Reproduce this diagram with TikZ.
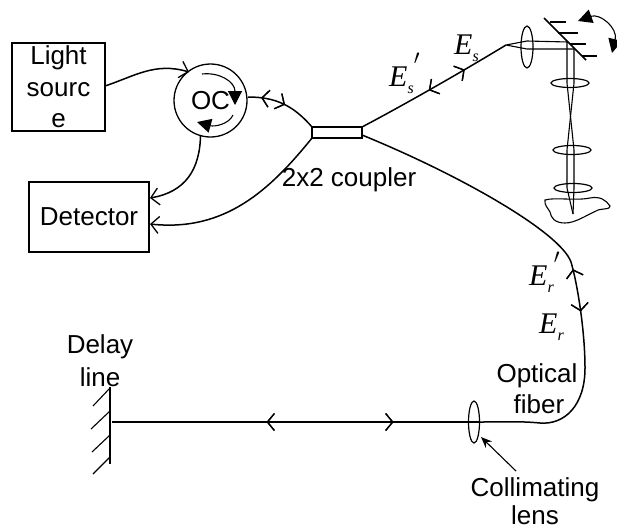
\documentclass[tikz,border=0pt]{standalone}
\usepackage{fontspec}
\setmainfont{Liberation Sans}
\newfontfamily\serifE{Liberation Serif}
\usetikzlibrary{arrows.meta,decorations.markings,calc,shapes.geometric}
\tikzset{
  ln/.style={line width=1.5pt,black},
  thin ln/.style={line width=1.1pt,black},
  boxn/.style={draw,line width=1.3pt,inner sep=0pt,align=center,font=\fontsize{26}{31.5}\selectfont},
  lbl/.style={inner sep=0pt,anchor=base,font=\fontsize{26}{31}\selectfont},
  lens/.style={draw,ellipse,line width=1.2pt,inner sep=0pt},
  fwd/.style={decoration={markings,mark=at position #1 with {\arrow[line width=1.3pt]{Straight Barb[length=7pt,width=17pt]}}},postaction={decorate}},
  bwd/.style={decoration={markings,mark=at position #1 with {\arrowreversed[line width=1.3pt]{Straight Barb[length=7pt,width=17pt]}}},postaction={decorate}},
  barb end/.style={-{Straight Barb[length=8pt,width=17pt,line width=1.3pt]}},
  solid tip/.style={-{Triangle[length=14pt,width=14pt]}},
  efield/.style={inner sep=0pt,anchor=base west},
}
\newcommand{\Efield}[2]{{\serifE\fontsize{30}{30}\selectfont\itshape E\raisebox{-7pt}{\fontsize{16}{16}\selectfont #1}#2}}
\begin{document}
\begin{tikzpicture}[x=1pt,y=-1pt]
\useasboundingbox (0,0) rectangle (617,528);
% boxes
\node[boxn,minimum width=93pt,minimum height=88pt] (src) at (58.5,87) {Light\\sourc\\e};
\node[boxn,minimum width=120pt,minimum height=70pt] (det) at (89,217) {Detector};
\node[draw,circle,line width=1.3pt,minimum size=73pt,inner sep=0pt,font=\fontsize{26}{30}\selectfont] (oc) at (210.5,100.5) {OC};
\node[draw,line width=1.3pt,minimum width=50pt,minimum height=11pt,inner sep=0pt] (cpl) at (337,132.5) {};
% coupler fibres
\coordinate (srcout) at (105,86);
\coordinate (ocin) at (189,72);
\coordinate (ocdown) at (200.5,135);
\coordinate (detin1) at (150,198);
\coordinate (detin2) at (150,224);
\coordinate (ocright) at (248,97);
\coordinate (cplL1) at (312,127);
\coordinate (cplL2) at (312,138);
\coordinate (cplR1) at (362,127);
\coordinate (cplR2) at (362,135);
\coordinate (bend) at (506,45);
\coordinate (fa) at (571,262);
\coordinate (fb) at (585,368);
\coordinate (fc) at (480,422);
\draw[ln,barb end] (srcout) .. controls (135,76) and (155,62) .. (ocin);
\draw[ln,barb end] (ocdown) .. controls (200,170) and (185,192) .. (detin1);
\draw[ln,bwd=0.18,fwd=0.52] (ocright) .. controls (275,97) and (293,105) .. (cplL1);
\draw[ln,barb end] (cplL2) .. controls (270,190) and (225,232) .. (detin2);
\draw[ln,bwd=0.46,fwd=0.71] (cplR1) .. controls (400,107) and (460,73) .. (bend);
\draw[ln] (cplR2) .. controls (460,175) and (560,232) .. (fa);
\draw[ln,bwd=0.07,fwd=0.47] (fa) .. controls (577,282) and (585,330) .. (fb);
\draw[ln] (fb) .. controls (585,405) and (565,425) .. (540,423) .. controls (520,421) and (500,422) .. (fc);
% OC small arrows
\coordinate (oa1) at (202,74);
\coordinate (oa2) at (235,105);
\coordinate (ob1) at (233,115);
\coordinate (ob2) at (197,122);
\draw[thin ln,solid tip] (oa1) .. controls (220,72) and (235,82) .. (oa2);
\draw[thin ln,solid tip] (ob1) .. controls (229,124) and (215,127) .. (ob2);
% sample arm
\node[lens,minimum width=12pt,minimum height=42pt] (l1) at (527,47) {};
\coordinate (m1) at (544,18);
\coordinate (m2) at (586,60);
\draw[ln] (m1) -- (m2);
\draw[thin ln] (550,22) -- (566,22) (558,33) -- (578,33) (570,44) -- (586,44) (582,56) -- (597,56);
\draw[thin ln] (bend) -- (527,41) -- (568,42) (bend) -- (527,49) -- (574,49);
\draw[thin ln] (567,42) -- (567,83) -- (574,150) -- (574,188) -- (573,214);
\draw[thin ln] (574,49) -- (574,83) -- (567,150) -- (567,188) -- (573,214);
\node[lens,minimum width=38pt,minimum height=9pt] (l2) at (570,83) {};
\node[lens,minimum width=38pt,minimum height=9pt] (l3) at (572,150) {};
\node[lens,minimum width=38pt,minimum height=9pt] (l4) at (573,188) {};
\draw[thin ln] (545,200) .. controls (555,197) and (575,201) .. (590,198) .. controls (600,196) and (606,200) .. (610,206) .. controls (611,210) and (600,208) .. (596,211) .. controls (585,216) and (575,223) .. (565,223) .. controls (555,223) and (551,218) .. (550,212) .. controls (548,208) and (544,205) .. (545,200) -- cycle;
% tilt arrow
\coordinate (t1) at (578,21);
\coordinate (t2) at (612,53);
\draw[thin ln,{Triangle[length=14pt,width=14pt]}-{Triangle[length=14pt,width=14pt]}] (t1) .. controls (600,13) and (618,28) .. (t2);
% reference arm
\node[lens,minimum width=11pt,minimum height=42pt] (l5) at (474,422) {};
\coordinate (dl) at (112,422);
\draw[ln,bwd=0.42,fwd=0.765] (dl) -- (fc);
\coordinate (w1) at (110,387);
\coordinate (w2) at (110,464);
\draw[ln] (w1) -- (w2);
\draw[thin ln] (110,388) -- (93,406) (110,411) -- (91,429) (110,435) -- (92,452) (110,457) -- (93,474);
% labels
\node[lbl] (cpll) at (349,186) {2x2 coupler};
\node[lbl] (dl1) at (100,353) {Delay};
\node[lbl] (dl2) at (100,386) {line};
\node[lbl] (of1) at (537,382) {Optical};
\node[lbl] (of2) at (539,413) {fiber};
\node[lbl] (cl1) at (535,496) {Collimating};
\node[lbl] (cl2) at (535,524) {lens};
\coordinate (ca) at (516,471);
\coordinate (cb) at (481,437);
\draw[thin ln,-{Stealth[length=11pt,width=9pt]}] (ca) -- (cb);
\node[efield] (es) at (454,54) {\Efield{s}{}};
\node[efield] (esp) at (389,86) {\Efield{s}{\raisebox{12pt}{$'$}}};
\node[efield] (erp) at (529,285) {\Efield{r}{\raisebox{12pt}{$'$}}};
\node[efield] (er) at (539,333) {\Efield{r}{}};
\end{tikzpicture}
\end{document}
